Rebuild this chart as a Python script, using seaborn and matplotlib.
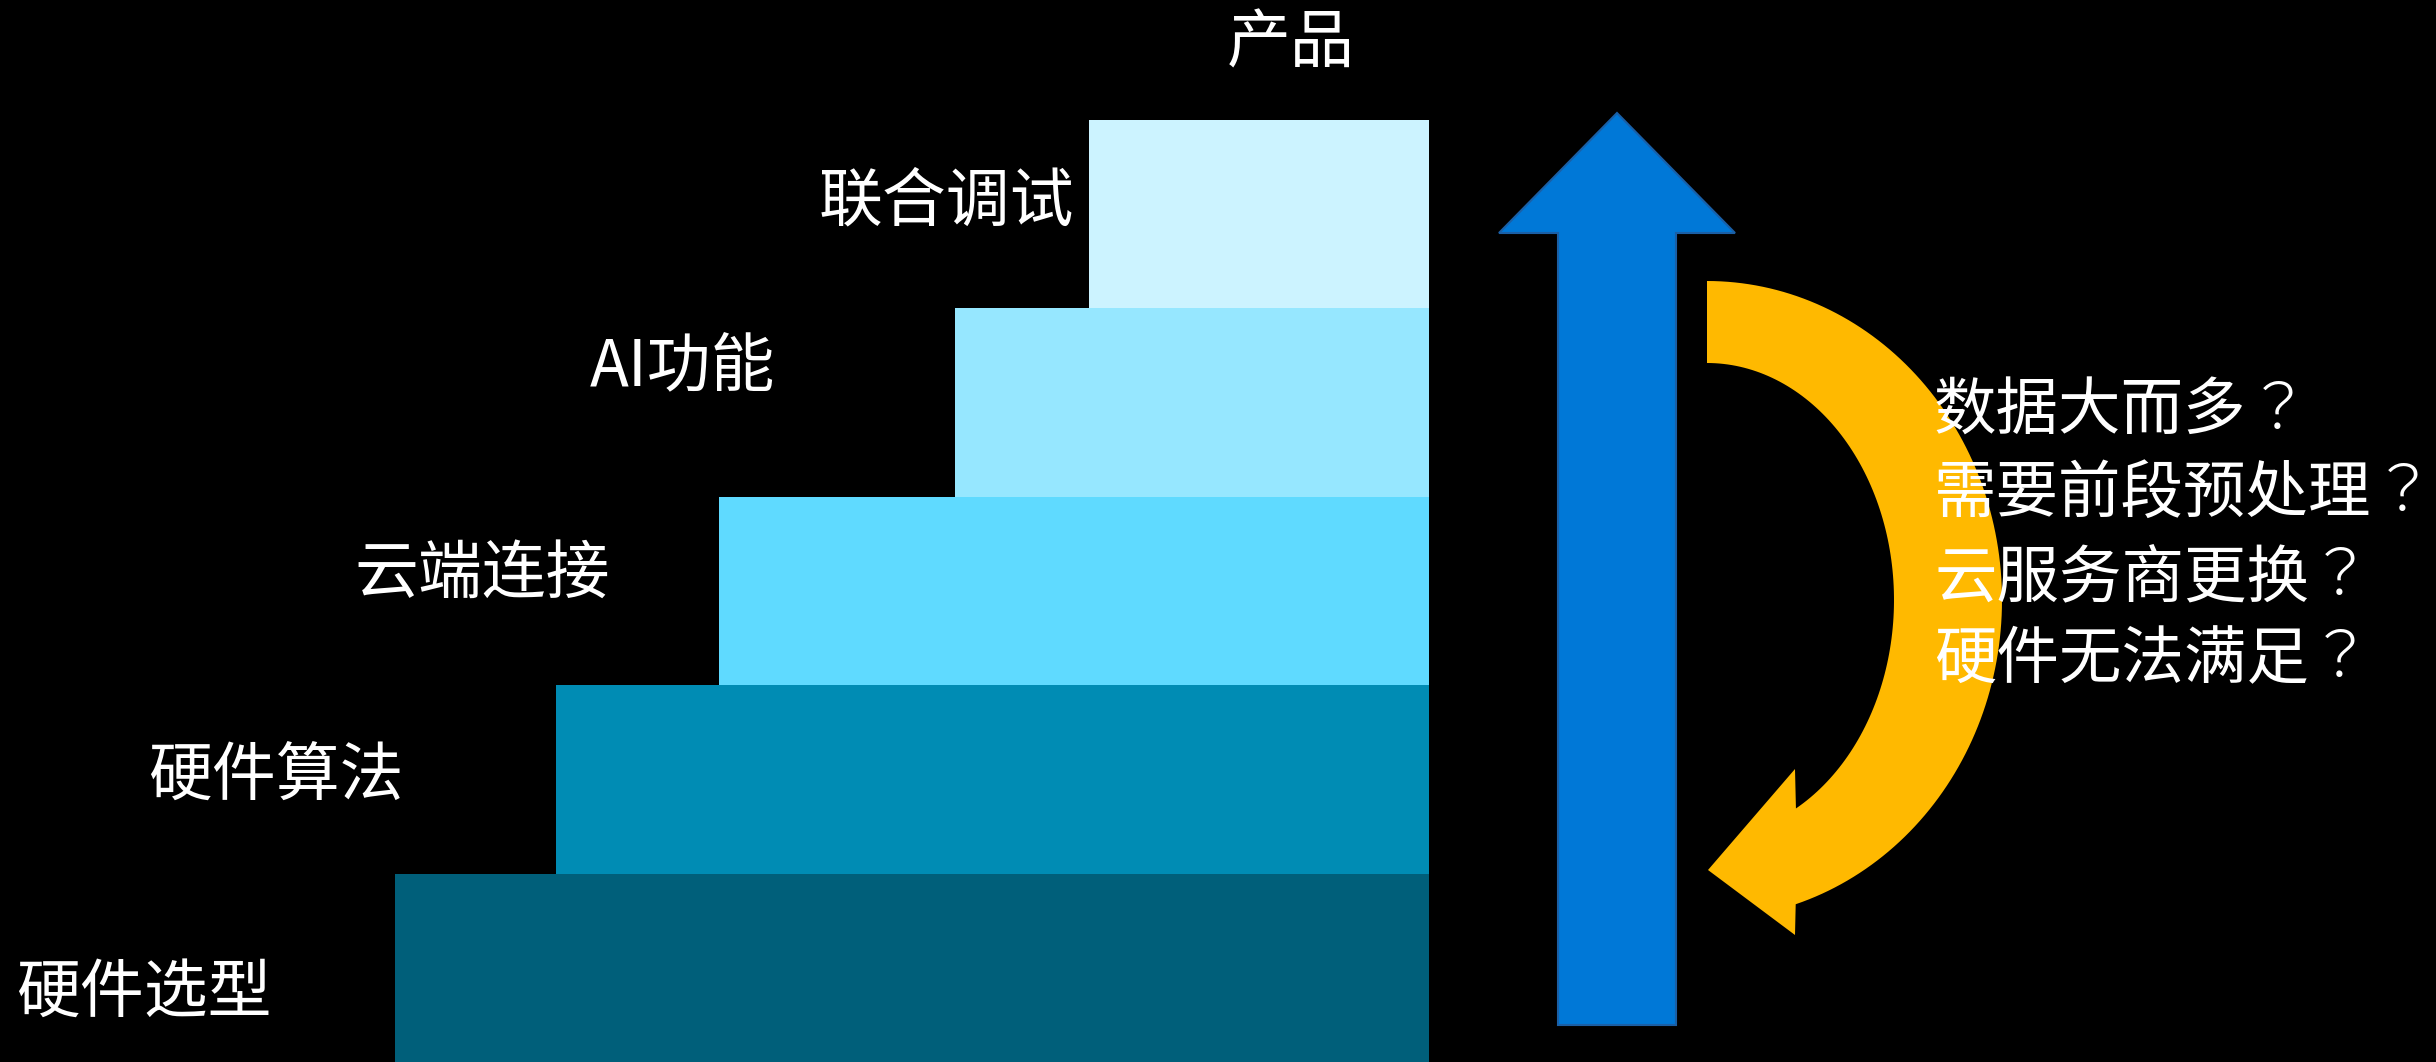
"""
Staircase diagram: development steps from hardware selection to product,
with an upward progress arrow and a loop arrow of open questions.
"""

import numpy as np
import seaborn as sns
import matplotlib.pyplot as plt
from matplotlib.patches import Polygon

# ---- data ----
step_labels = ["硬件选型", "硬件算法", "云端连接", "AI功能", "联合调试"]
step_start = [395, 556, 719, 955, 1089]
step_end = 1429
step_colors = ["#005F7A", "#008CB4", "#5FDAFF", "#96E7FF", "#CCF3FF"]
label_x = [16, 148, 354, 590, 819]
label_y = [68, 285, 487, 695, 860]

top_label = "产品"

questions = ["数据大而多", "需要前段预处理", "云服务商更换", "硬件无法满足"]
question_y = [650, 568, 484, 402]

W, H = 2436, 1062
STEP_H = 188.4

sns.set_theme(style="dark")
plt.rcParams["font.family"] = ["Noto Sans CJK SC", "DejaVu Sans"]

fig = plt.figure(figsize=(W / 100, H / 100), dpi=100, facecolor="black")
ax = fig.add_axes([0, 0, 1, 1])
ax.set_facecolor("black")
ax.set_xlim(0, W)
ax.set_ylim(0, H)
ax.axis("off")

# ---- steps ----
levels = np.arange(len(step_labels))
widths = [step_end - s for s in step_start]
ax.barh(levels * STEP_H + STEP_H / 2, widths, left=step_start,
        height=STEP_H, color=step_colors, linewidth=0, zorder=1)

for lab, x, y in zip(step_labels, label_x, label_y):
    ax.text(x, y, lab, color="white", fontsize=46, fontweight="light",
            ha="left", va="center")
ax.text(1227, 1018, top_label, color="white", fontsize=46, fontweight="light",
        ha="left", va="center")

# ---- blue up arrow ----
blue = Polygon([(1558, 37), (1676, 37), (1676, 829), (1735, 829),
                (1617, 949), (1499, 829), (1558, 829)], closed=True,
               facecolor="#0078D7", edgecolor="#1A5FA6", lw=1.5, zorder=2)
ax.add_patch(blue)

# ---- orange loop arrow ----
cx, cy = 1707, 462
t_out = np.radians(np.linspace(90, -72.5, 120))
t_in = np.radians(np.linspace(-61.6, 90, 120))
outer = np.column_stack([cx + 295 * np.cos(t_out), cy + 319 * np.sin(t_out)])
inner = np.column_stack([cx + 187 * np.cos(t_in), cy + 237 * np.sin(t_in)])
head = np.array([(1795, 127), (1708, 192), (1795, 293)])
pts = np.vstack([outer, head, inner])
ax.add_patch(Polygon(pts, closed=True, facecolor="#FFB900",
                     edgecolor="none", zorder=2))

# questions; the full-width question mark is centred as in the reference
for q, y in zip(questions, question_y):
    t = ax.text(1934, y, q, color="white", fontsize=45, fontweight="light",
                ha="left", va="center", zorder=3)
    ax.annotate("？", xy=(1, 0.5), xycoords=t, color="white", fontsize=45,
                fontweight="light", family=["Noto Sans CJK JP", "DejaVu Sans"],
                ha="left", va="center", zorder=3)

fig.savefig("out.png", dpi=100, facecolor="black")
